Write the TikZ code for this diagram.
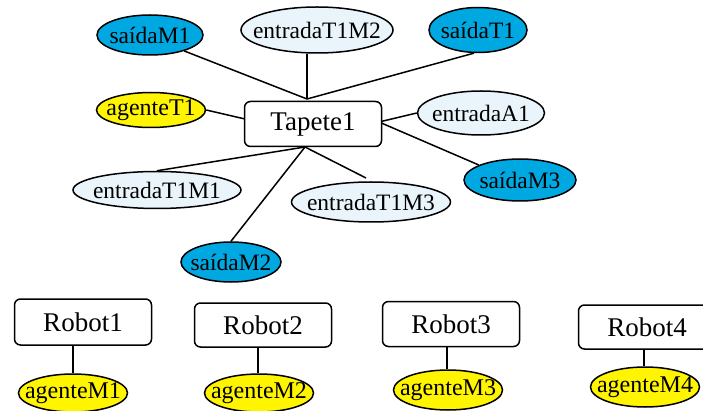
\documentclass[tikz,border=0pt]{standalone}
\usepackage{fontspec}
\setmainfont{Liberation Serif}
\usetikzlibrary{shapes.geometric,backgrounds}
\definecolor{sblue}{HTML}{00A8E2}
\definecolor{syellow}{HTML}{FFF500}
\definecolor{slight}{HTML}{EAF5FB}
\newcommand{\tx}[1]{\makebox[0pt]{#1}}
\tikzset{
  ell/.style={ellipse, draw=black, line width=1.5pt, inner sep=0pt, font=\fontsize{23.5}{23.5}\selectfont},
  outbox/.style={ell, fill=sblue},
  agbox/.style={ell, fill=syellow, font=\fontsize{24}{24}\selectfont},
  inbox/.style={ell, fill=slight},
  rbox/.style={draw=black, line width=1.5pt, rounded corners=6pt, fill=white, inner sep=0pt, font=\fontsize{27}{27}\selectfont},
  link/.style={draw=black, line width=1.5pt}
}
\begin{document}
\begin{tikzpicture}[x=1pt,y=-1pt]
\useasboundingbox (0,0) rectangle (703,411);
\clip (0,0) rectangle (703,411);
% nodes
\node[rbox, minimum width=137pt, minimum height=45pt] (tap) at (313,124) {Tapete1};
\node[outbox, minimum width=106pt, minimum height=40pt] (sM1) at (150,35) {\tx{saídaM1}};
\node[inbox, minimum width=152pt, minimum height=46pt] (eT1M2) at (317,30) {\tx{entradaT1M2}};
\node[outbox, minimum width=98pt, minimum height=45pt] (sT1) at (478,30) {\tx{saídaT1}};
\node[agbox, minimum width=109pt, minimum height=35pt] (aT1) at (151,110) {\tx{agenteT1}};
\node[inbox, minimum width=127pt, minimum height=44pt] (eA1) at (481,113) {\tx{entradaA1}};
\node[outbox, minimum width=112pt, minimum height=42pt] (sM3) at (520,180) {\tx{saídaM3}};
\node[inbox, minimum width=168pt, minimum height=37pt] (eT1M1) at (157,190) {\tx{entradaT1M1}};
\node[inbox, minimum width=159pt, minimum height=40pt] (eT1M3) at (371,202) {\tx{entradaT1M3}};
\node[outbox, minimum width=100pt, minimum height=40pt] (sM2) at (231,262) {\tx{saídaM2}};
\node[rbox, minimum width=137pt, minimum height=46pt] (r1) at (83,322) {Robot1};
\node[rbox, minimum width=137pt, minimum height=44pt] (r2) at (263,325) {Robot2};
\node[rbox, minimum width=137pt, minimum height=45pt] (r3) at (451,324) {Robot3};
\node[rbox, minimum width=137pt, minimum height=44pt] (r4) at (647,327) {Robot4};
\node[agbox, minimum width=109pt, minimum height=38pt] (aM1) at (73,393) {\tx{agenteM1}};
\node[agbox, minimum width=109pt, minimum height=38pt] (aM2) at (259,393) {\tx{agenteM2}};
\node[agbox, minimum width=109pt, minimum height=40pt] (aM3) at (448,390) {\tx{agenteM3}};
\node[agbox, minimum width=109pt, minimum height=40pt] (aM4) at (645,387) {\tx{agenteM4}};
% hub coordinates
\coordinate (ttop) at (307,99);
\coordinate (tleft) at (245,119);
\coordinate (tright) at (379,122);
\coordinate (tbot) at (305,147);
\coordinate (m3end) at (366,178);
\coordinate (r1b) at (73,345);
\coordinate (r2b) at (258,347);
\coordinate (r3b) at (447,346);
\coordinate (r4b) at (644,349);
% connectors
\begin{pgfonlayer}{background}
\fill[white] (0,0) rectangle (703,411);
\draw[link] (sM1.-25) -- (ttop);
\draw[link] (eT1M2.south -| ttop) -- (ttop);
\draw[link] (sT1.-100) -- (ttop);
\draw[link] (aT1.east) -- (tleft);
\draw[link] (tright) -- (eA1.west);
\draw[link] (tright) -- (sM3.160);
\draw[link] (tbot) -- (eT1M1.north);
\draw[link] (tbot) -- (m3end);
\draw[link] (tbot) -- (sM2.north);
\draw[link] (r1b) -- (aM1.north);
\draw[link] (r2b) -- (aM2.north -| r2b);
\draw[link] (r3b) -- (aM3.north -| r3b);
\draw[link] (r4b) -- (aM4.north -| r4b);
\end{pgfonlayer}
\end{tikzpicture}
\end{document}
